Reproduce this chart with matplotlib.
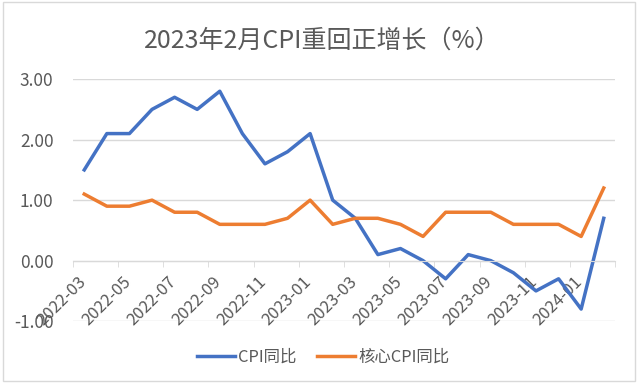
import matplotlib
matplotlib.use("Agg")
import matplotlib.pyplot as plt
import matplotlib.transforms as mtransforms
from matplotlib.ticker import FixedLocator, FormatStrFormatter

plt.rcParams["font.family"] = ["Noto Sans CJK SC", "DejaVu Sans"]

months = ["2022-03", "2022-04", "2022-05", "2022-06", "2022-07", "2022-08",
          "2022-09", "2022-10", "2022-11", "2022-12", "2023-01", "2023-02",
          "2023-03", "2023-04", "2023-05", "2023-06", "2023-07", "2023-08",
          "2023-09", "2023-10", "2023-11", "2023-12", "2024-01", "2024-02"]
cpi = [1.5, 2.1, 2.1, 2.5, 2.7, 2.5, 2.8, 2.1, 1.6, 1.8, 2.1, 1.0,
       0.7, 0.1, 0.2, 0.0, -0.3, 0.1, 0.0, -0.2, -0.5, -0.3, -0.8, 0.7]
core_cpi = [1.1, 0.9, 0.9, 1.0, 0.8, 0.8, 0.6, 0.6, 0.6, 0.7, 1.0, 0.6,
            0.7, 0.7, 0.6, 0.4, 0.8, 0.8, 0.8, 0.6, 0.6, 0.6, 0.4, 1.2]

text_color = "#595959"
grid_color = "#d9d9d9"

fig = plt.figure(figsize=(6.4, 3.86), dpi=100)
fig.patches.append(plt.Rectangle((0.005, 0.012), 0.987, 0.982, transform=fig.transFigure,
                                 fill=False, edgecolor="#d9d9d9", linewidth=1))
ax = fig.add_axes([0.114, 0.168, 0.847, 0.627])

x = list(range(len(months)))
ax.plot(x, cpi, color="#4472C4", linewidth=2.5, label="CPI同比", solid_joinstyle="round")
ax.plot(x, core_cpi, color="#ED7D31", linewidth=2.5, label="核心CPI同比", solid_joinstyle="round")

ax.set_xlim(-0.5, len(months) - 0.5)
ax.set_ylim(-1, 3)
ax.set_yticks([-1, 0, 1, 2, 3])
ax.yaxis.set_major_formatter(FormatStrFormatter("%.2f"))
ax.grid(axis="y", color=grid_color, linewidth=1)
ax.set_axisbelow(True)

for s in ["top", "right", "left"]:
    ax.spines[s].set_visible(False)
ax.spines["bottom"].set_position(("data", 0))
ax.spines["bottom"].set_color(grid_color)

ax.set_xticks(x[::2])
ax.set_xticklabels(months[::2], rotation=45, ha="right")
ax.xaxis.set_minor_locator(FixedLocator([i - 0.5 for i in range(0, len(months) + 1, 2)]))
ax.tick_params(axis="x", which="major", length=0, pad=9, labelsize=12, labelcolor=text_color)
ax.tick_params(axis="x", which="minor", length=4, color=grid_color)
ax.tick_params(axis="y", length=0, pad=14, labelsize=12.5, labelcolor=text_color)

# Excel puts the rotated labels a bit right of the category centre
shift = mtransforms.ScaledTranslation(5 / 100, 0, fig.dpi_scale_trans)
for lbl in ax.get_xticklabels():
    lbl.set_transform(lbl.get_transform() + shift)

fig.suptitle("2023年2月CPI重回正增长（%）", x=0.503, y=0.896, fontsize=18,
             color=text_color, va="center")

fig.legend(loc="center", bbox_to_anchor=(0.505, 0.075), ncol=2, frameon=False,
           fontsize=11.8, labelcolor=text_color, handlelength=2.3,
           handletextpad=0.2, columnspacing=1.3)

fig.savefig("out.png", dpi=100)
